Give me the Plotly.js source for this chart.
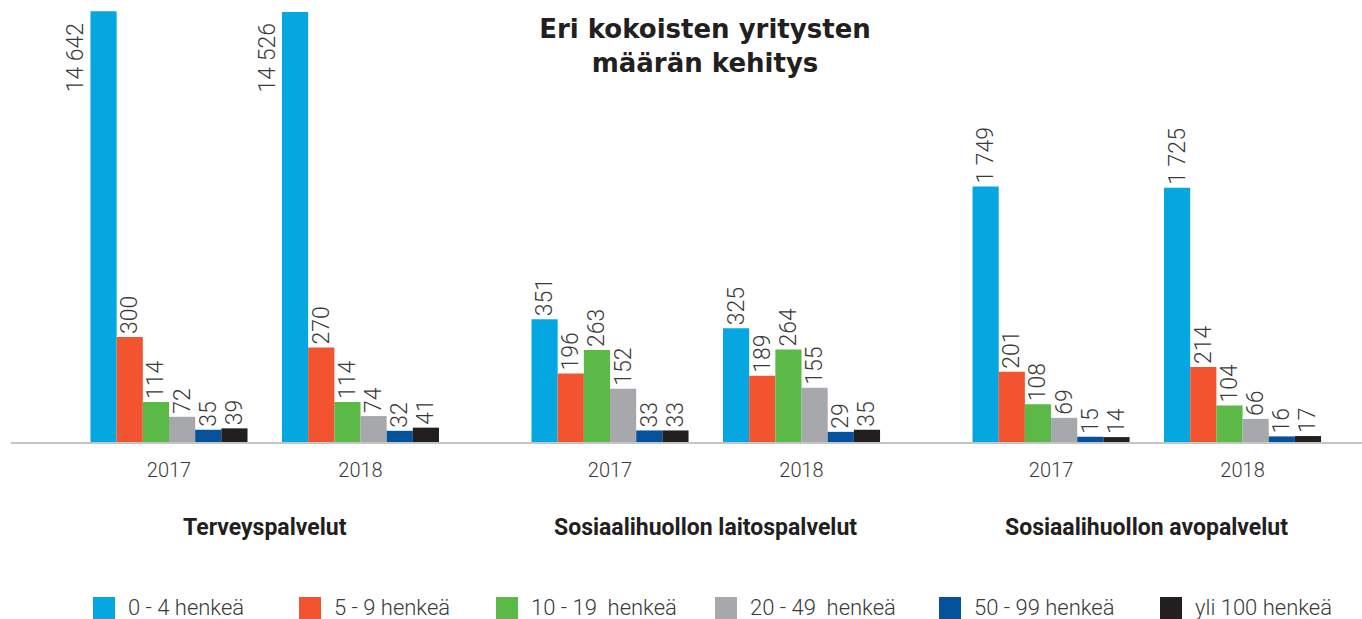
<!DOCTYPE html>
<html>
<head>
<meta charset="utf-8">
<script src="https://cdn.plot.ly/plotly-3.0.1.min.js"></script>
<style>
  html, body { margin: 0; padding: 0; background: #fff; }
  #plot { width: 1362px; height: 619px; }
</style>
</head>
<body>
<div id="plot"></div>
<script>
let groups = ["Terveyspalvelut", "Sosiaalihuollon laitospalvelut", "Sosiaalihuollon avopalvelut"];
let years = ["2017", "2018"];
let sizeNames = ["0 - 4 henkeä", "5 - 9 henkeä", "10 - 19\u00a0 henkeä", "20 - 49\u00a0 henkeä", "50 - 99 henkeä", "yli 100 henkeä"];

// order: Terveys 2017, 2018, Laitos 2017, 2018, Avo 2017, 2018
let size0_4 = [14642, 14526, 351, 325, 1749, 1725];
let size5_9 = [300, 270, 196, 189, 201, 214];
let size10_19 = [114, 114, 263, 264, 108, 104];
let size20_49 = [72, 74, 152, 155, 69, 66];
let size50_99 = [35, 32, 33, 29, 15, 16];
let size100 = [39, 41, 33, 35, 14, 17];

let series = [size0_4, size5_9, size10_19, size20_49, size50_99, size100];
let colors = ["#05a7e0", "#f1542f", "#5ab947", "#a6a8ab", "#04529c", "#231f20"];

let W = 1362, H = 619;
let M = { l: 11, r: 0, t: 0, b: 177 };
let GROUP_STEP = 2.303;
let BARGAP = 0.18;
let YMAX = 1263;

// the original graphic squeezes the tallest bars: linear up to 351, log tail above it
let KNEE = 351;
function shown(v) {
  return v <= KNEE ? v : KNEE + 543 * Math.log10(v / KNEE);
}

function fmt(v) {
  return String(v).replace(/\B(?=(\d{3})+(?!\d))/g, "\u00a0");
}

function px2x(px) { return (px - M.l) / (W - M.l - M.r); }
function py2y(py) { return (H - M.b - py) / (H - M.t - M.b); }

let xpos = [];
let xlabels = [];
groups.forEach((g, gi) => {
  years.forEach((y, yi) => {
    xpos.push(gi * GROUP_STEP + yi);
    xlabels.push(y);
  });
});

let labelFont = { family: "Roboto, 'Liberation Sans', sans-serif", size: 23, color: "#3a3a3a", weight: 300 };
let annotations = [];

let traces = series.map((vals, si) => {
  let textpos = vals.map(v => (shown(v) > YMAX - 150 ? "none" : "outside"));
  return {
    type: "bar",
    name: sizeNames[si],
    x: xpos,
    y: vals.map(shown),
    customdata: vals,
    text: vals.map(fmt),
    textposition: textpos,
    textangle: -90,
    textfont: labelFont,
    constraintext: "none",
    cliponaxis: false,
    marker: { color: colors[si] },
    hovertemplate: "%{customdata}<extra>" + sizeNames[si] + "</extra>",
    showlegend: false
  };
});

// labels that do not fit above their bar go to its left side
let barW = (1 - BARGAP) / series.length;
series.forEach((vals, si) => {
  vals.forEach((v, i) => {
    if (shown(v) > YMAX - 150) {
      annotations.push({
        x: xpos[i] + (si - (series.length - 1) / 2) * barW,
        y: shown(v),
        xref: "x", yref: "y",
        text: fmt(v),
        textangle: -90,
        showarrow: false,
        xanchor: "center", yanchor: "top",
        xshift: -28, yshift: -10,
        font: labelFont
      });
    }
  });
});

// group names under the year labels
groups.forEach((g, gi) => {
  annotations.push({
    x: gi * GROUP_STEP + 0.5,
    y: py2y(527),
    xref: "x", yref: "paper",
    text: "<b>" + g + "</b>",
    showarrow: false,
    xanchor: "center", yanchor: "middle",
    font: { family: "Roboto, 'Liberation Sans', sans-serif", size: 23, color: "#231f20", weight: 900 }
  });
});

// legend drawn by hand: big squares, uneven spacing as in the original
let legendLeft = [93, 299, 496, 715, 939, 1160];
let shapes = [];
sizeNames.forEach((n, si) => {
  shapes.push({
    type: "rect", xref: "paper", yref: "paper",
    x0: px2x(legendLeft[si]), x1: px2x(legendLeft[si] + 22),
    y0: py2y(597), y1: py2y(619),
    fillcolor: colors[si], line: { width: 0 }
  });
  annotations.push({
    x: px2x(legendLeft[si] + 33),
    y: py2y(607),
    xref: "paper", yref: "paper",
    text: n,
    showarrow: false,
    xanchor: "left", yanchor: "middle",
    font: { family: "Roboto, 'Liberation Sans', sans-serif", size: 22, color: "#3a3a3a", weight: 300 }
  });
});

let layout = {
  width: W,
  height: H,
  margin: M,
  paper_bgcolor: "#fff",
  plot_bgcolor: "#fff",
  barmode: "group",
  bargap: BARGAP,
  bargroupgap: 0,
  showlegend: false,
  title: {
    text: "Eri kokoisten yritysten<br>määrän kehitys",
    x: 705 / W,
    xanchor: "center",
    y: 1 - 38 / H,
    yanchor: "middle",
    yref: "container",
    font: { family: "'DejaVu Sans', sans-serif", size: 26, color: "#231f20", weight: "bold" }
  },
  xaxis: {
    range: [-(169 - M.l) / 191.5, (W - 169) / 191.5],
    tickvals: xpos,
    ticktext: xlabels,
    ticks: "",
    ticklabelstandoff: 9,
    tickfont: { family: "Roboto, 'Liberation Sans', sans-serif", size: 20, color: "#3a3a3a", weight: 300 },
    showline: true,
    linecolor: "#c4c4c4",
    linewidth: 2,
    showgrid: false,
    zeroline: false,
    automargin: false,
    fixedrange: true
  },
  yaxis: {
    range: [0, YMAX],
    visible: false,
    fixedrange: true
  },
  annotations: annotations,
  shapes: shapes
};

Plotly.newPlot("plot", traces, layout, { displayModeBar: false, responsive: false });
</script>
</body>
</html>
